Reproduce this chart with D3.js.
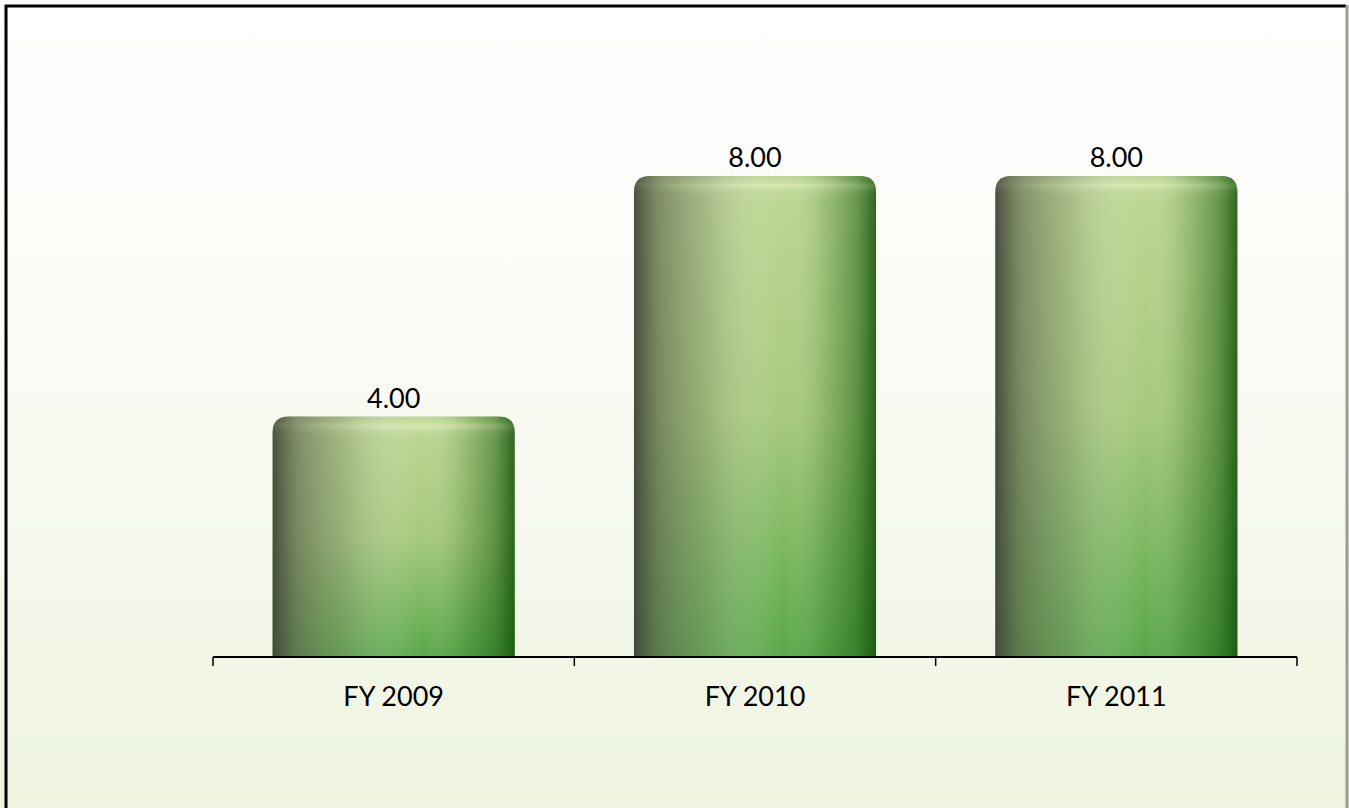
<!DOCTYPE html>
<html>
<head>
  <meta charset="utf-8">
  <title>FY bars</title>
  <script src="https://cdnjs.cloudflare.com/ajax/libs/d3/7.8.5/d3.min.js"></script>
  <style>
    html, body { margin: 0; padding: 0; background: #fff; }
    svg { display: block; font-family: "Lato", "Open Sans", sans-serif; }
  </style>
</head>
<body>
  <svg id="chart"></svg>
  <script>
    // chart data
    const categories = ["FY 2009", "FY 2010", "FY 2011"];
    const values = [4, 8, 8];
    const valueLabels = ["4.00", "8.00", "8.00"];

    const width = 1349, height = 808;
    const margin = { top: 0, left: 213, right: 52, bottom: 151 };

    const svg = d3.select("#chart")
      .attr("width", width)
      .attr("height", height);

    const defs = svg.append("defs");

    // page background: white fading to pale green
    const bg = defs.append("linearGradient").attr("id", "bg")
      .attr("x1", 0).attr("y1", 0).attr("x2", 0).attr("y2", 1);
    bg.append("stop").attr("offset", "0").attr("stop-color", "#ffffff");
    bg.append("stop").attr("offset", "0.45").attr("stop-color", "#fafbf5");
    bg.append("stop").attr("offset", "1").attr("stop-color", "#eef4e0");

    // bar base colour (top -> bottom)
    const barV = defs.append("linearGradient").attr("id", "barV")
      .attr("x1", 0).attr("y1", 0).attr("x2", 0).attr("y2", 1);
    barV.append("stop").attr("offset", "0").attr("stop-color", "#bdd793");
    barV.append("stop").attr("offset", "0.5").attr("stop-color", "#a6c97c");
    barV.append("stop").attr("offset", "1").attr("stop-color", "#5aa84a");

    // cylinder shading (left -> right)
    const barH = defs.append("linearGradient").attr("id", "barH")
      .attr("x1", 0).attr("y1", 0).attr("x2", 1).attr("y2", 0);
    [["0", "#3e4236", 0.92], ["0.04", "#4a4e40", 0.8], ["0.1", "#5a5f4c", 0.62],
     ["0.3", "#7d8670", 0.35], ["0.56", "#ffffff", 0.05], ["0.62", "#ffffff", 0.0],
     ["0.78", "#2a6a1a", 0.18], ["0.92", "#155a0a", 0.5], ["1", "#0c4a05", 0.8]]
      .forEach(s => barH.append("stop").attr("offset", s[0])
        .attr("stop-color", s[1]).attr("stop-opacity", s[2]));

    // rounded top cap highlight
    const cap = defs.append("linearGradient").attr("id", "cap")
      .attr("x1", 0).attr("y1", 0).attr("x2", 0).attr("y2", 1);
    cap.append("stop").attr("offset", "0").attr("stop-color", "#e8f2c8").attr("stop-opacity", 0.05);
    cap.append("stop").attr("offset", "0.35").attr("stop-color", "#f4fad8").attr("stop-opacity", 0.6);
    cap.append("stop").attr("offset", "0.6").attr("stop-color", "#dbe8b8").attr("stop-opacity", 0.2);
    cap.append("stop").attr("offset", "1").attr("stop-color", "#ffffff").attr("stop-opacity", 0);

    const capFade = defs.append("radialGradient").attr("id", "capFade")
      .attr("cx", 0.58).attr("cy", 0.5).attr("r", 0.5);
    capFade.append("stop").attr("offset", "0").attr("stop-color", "#fff").attr("stop-opacity", 1);
    capFade.append("stop").attr("offset", "1").attr("stop-color", "#fff").attr("stop-opacity", 0.15);
    defs.append("mask").attr("id", "capMask")
      .attr("maskContentUnits", "objectBoundingBox")
      .append("rect").attr("width", 1).attr("height", 1).attr("fill", "url(#capFade)");

    svg.append("rect")
      .attr("width", width).attr("height", height)
      .attr("fill", "url(#bg)");

    const x = d3.scaleBand()
      .domain(categories)
      .range([margin.left, width - margin.right])
      .paddingInner(0.33)
      .paddingOuter(0.165);

    const y = d3.scaleLinear()
      .domain([0, 8])
      .range([height - margin.bottom, height - margin.bottom - 481]);

    const r = 16;
    const barPath = (x0, y0, w, h) =>
      `M${x0},${y0 + h}V${y0 + r}Q${x0},${y0} ${x0 + r},${y0}` +
      `H${x0 + w - r}Q${x0 + w},${y0} ${x0 + w},${y0 + r}V${y0 + h}Z`;

    const bars = svg.append("g").selectAll("g")
      .data(categories)
      .join("g");

    bars.append("path")
      .attr("d", (d, i) => barPath(x(d), y(values[i]), x.bandwidth(), y(0) - y(values[i])))
      .attr("fill", "url(#barV)");
    bars.append("path")
      .attr("d", (d, i) => barPath(x(d), y(values[i]), x.bandwidth(), y(0) - y(values[i])))
      .attr("fill", "url(#barH)");
    bars.append("path")
      .attr("d", (d, i) => barPath(x(d), y(values[i]), x.bandwidth(), 26))
      .attr("fill", "url(#cap)")
      .attr("mask", "url(#capMask)");

    // value labels
    svg.append("g").selectAll("text")
      .data(categories)
      .join("text")
      .attr("x", d => x(d) + x.bandwidth() / 2)
      .attr("y", (d, i) => y(values[i]) - 9)
      .attr("text-anchor", "middle")
      .attr("font-size", 27)
      .attr("fill", "#000")
      .text((d, i) => valueLabels[i]);

    // category axis with ticks between bands
    const axisY = y(0);
    const gx = svg.append("g").attr("stroke", "#000");
    gx.append("line")
      .attr("x1", margin.left).attr("x2", width - margin.right)
      .attr("y1", axisY).attr("y2", axisY)
      .attr("stroke-width", 2);
    const tickXs = d3.range(categories.length + 1)
      .map(i => margin.left + i * (width - margin.left - margin.right) / categories.length);
    gx.selectAll(".tick")
      .data(tickXs)
      .join("line")
      .attr("class", "tick")
      .attr("x1", d => d).attr("x2", d => d)
      .attr("y1", axisY).attr("y2", axisY + 9)
      .attr("stroke-width", 1.5);

    svg.append("g").selectAll("text")
      .data(categories)
      .join("text")
      .attr("x", d => x(d) + x.bandwidth() / 2)
      .attr("y", axisY + 49)
      .attr("text-anchor", "middle")
      .attr("font-size", 27)
      .attr("fill", "#000")
      .text(d => d);

    // frame
    svg.append("path")
      .attr("d", `M6,${height}V6H${width - 3}`)
      .attr("fill", "none").attr("stroke", "#000").attr("stroke-width", 3);
    svg.append("line")
      .attr("x1", width - 2).attr("x2", width - 2)
      .attr("y1", 5).attr("y2", height)
      .attr("stroke", "#9a9e92").attr("stroke-width", 3);
  </script>
</body>
</html>
